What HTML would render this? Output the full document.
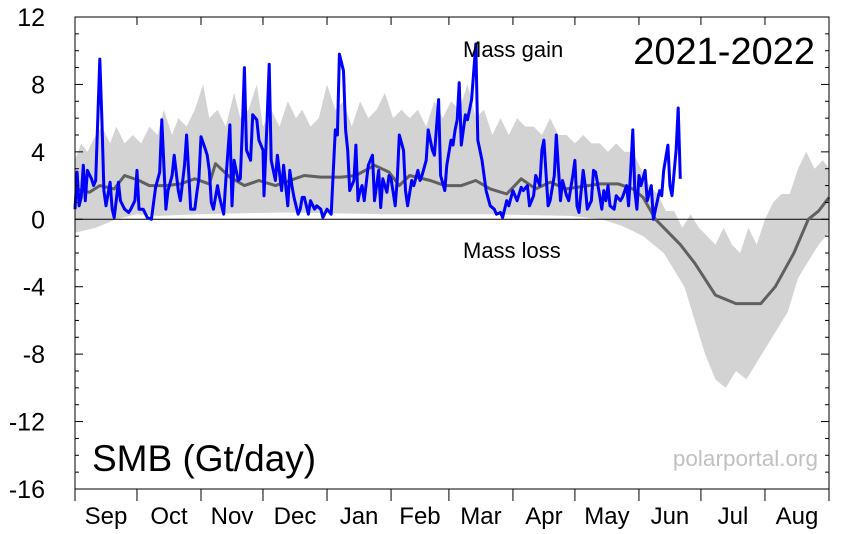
<!DOCTYPE html>
<html><head><meta charset="utf-8"><style>
html,body{margin:0;padding:0;background:#fff;}
svg{display:block;font-family:"Liberation Sans",sans-serif;}
</style></head><body>
<svg id="chart" width="845" height="534" viewBox="0 0 845 534" xmlns="http://www.w3.org/2000/svg">
<g id="band"></g>
<g id="lines"></g>
<g id="axes"></g>
<text x="92" y="471" font-size="37">SMB (Gt/day)</text>
<text x="815" y="64" font-size="38" text-anchor="end">2021-2022</text>
<text x="463" y="57" font-size="22">Mass gain</text>
<text x="463" y="258" font-size="22">Mass loss</text>
<text x="818" y="466" font-size="22.5" fill="#c0c0c0" text-anchor="end">polarportal.org</text>
</svg>
<script>
const monthLabels=["Sep","Oct","Nov","Dec","Jan","Feb","Mar","Apr","May","Jun","Jul","Aug"];
const monthStarts=[0,30,61,91,122,153,181,212,242,273,303,334,365];
const yTicks=[12,8,4,0,-4,-8,-12,-16];
const bandUpperDays=[0,3,6,10,13,17,20,24,28,32,36,40,43,47,50,54,58,62,65,69,73,77,80,84,88,91,95,99,103,107,110,114,118,122,126,130,134,138,142,146,150,154,158,162,166,170,174,178,182,186,190,194,198,202,206,210,214,218,222,226,230,234,238,242,246,250,254,258,262,266,270,274,278,282,286,290,294,298,302,306,310,314,318,322,326,330,334,338,342,346,350,354,358,362,365];
const bandUpperVals=[3.5,4.5,4,5,5.5,4.5,5.5,4.5,5,4.5,5.5,5,6.5,5,6,5.5,6.5,8,6,6.5,5.5,7.5,6,6.5,8,5.5,6.5,5.5,7,6,6.5,5.5,6,8,6.5,7,5.5,7,6,6.5,7.5,6,6.5,6,6.5,5.5,7,6,7,6.5,8,6,6.5,5,6,5,6,5.5,5.5,5,6,5,5,4.5,5,4.5,4.5,4,4.5,4,4,3,2,1.5,0.5,0.5,-0.5,0.3,-0.5,-1,-1.5,-0.5,-1.5,-2,-0.5,-1.5,0,1,1.5,1.5,3,4,3,3.5,3];
const bandLowerDays=[0,10,20,30,40,60,100,150,200,240,255,265,275,285,295,300,305,310,315,320,325,330,335,340,345,350,355,360,365];
const bandLowerVals=[-0.8,-0.5,0,0.3,0.2,0.3,0.4,0.3,0.3,0.2,0,-0.4,-1,-2,-4,-6,-8,-9.5,-10,-9,-9.5,-8.5,-7.5,-6.5,-5.5,-3.5,-2.5,-1.5,-0.8];
const meanDays=[0,7,12,19,24,31,36,44,51,58,65,68,75,82,89,97,104,111,119,129,136,145,152,157,162,172,179,187,194,201,209,216,223,230,238,254,263,270,275,281,293,300,310,320,332,339,348,355,360,365];
const meanVals=[1.8,1.6,2.0,1.8,2.6,2.3,2.0,2.0,2.1,2.4,2.1,3.3,2.5,2.0,2.3,2.0,2.3,2.6,2.5,2.5,2.6,3.2,2.8,2.0,2.6,2.3,2.0,2.0,2.3,1.8,1.5,2.4,1.8,2.2,1.8,2.1,2.1,1.8,1.3,0.0,-1.5,-2.6,-4.5,-5.0,-5.0,-4.0,-2.0,0.0,0.5,1.3];
const obsDays=[0,1,2,3,4,5,6,8,9,10,12,13,14,15,17,18,19,21,22,24,26,27,29,30,31,33,35,37,39,41,42,44,45,47,48,50,51,53,54,56,58,59,60,61,63,64,65,66,67,69,70,72,73,75,76,77,79,80,81,82,83,85,86,88,89,91,91.5,93,94,95,97,98,100,101,103,104,105,106,108,109,110,111,113,114,116,117,119,120,122,124,126,127,128,130,131,132,133,135,136,137,138,139,140,142,144,145,147,148,149,151,152,153,155,156,157,159,160,161,163,164,166,167,168,170,171,173,174,176,177,179,180,182,183,184,185,186,187,189,190,192,194,195,197,199,201,203,204,206,207,209,210,212,213,214,216,217,219,220,222,223,225,226,227,229,230,232,233,235,236,238,239,241,242,243,244,246,247,248,250,251,252,254,255,256,257,258,259,261,262,264,265,267,268,269,270,271,272,273,274,276,277,279,280,281,283,284,285,287,288,289,291,292,293];
const obsVals=[0.6,2.8,0.8,1.3,3.2,1.1,2.9,2.4,2.0,2.3,9.5,5.9,1.7,0.8,2.2,0.6,0.1,2.2,1.1,0.6,0.4,0.6,1.1,2.9,0.6,0.6,0.1,0.0,1.9,2.8,5.9,0.6,1.7,2.6,3.8,1.7,1.1,3.2,5.0,0.6,0.6,1.6,2.4,4.9,4.2,3.8,2.9,1.0,0.6,2.0,1.3,0.3,2.3,5.6,0.8,3.5,2.3,2.4,5.3,9.0,4.1,3.5,6.2,5.9,4.7,4.1,1.4,5.9,9.2,3.5,2.3,3.8,1.7,3.2,0.8,2.9,2.0,1.3,0.3,0.6,1.3,1.3,0.3,1.1,0.6,0.8,0.6,0.1,0.6,0.3,5.3,5.0,9.8,8.8,5.3,4.1,1.7,2.3,4.4,1.1,1.7,2.0,1.1,3.2,3.8,1.1,2.9,0.7,2.4,1.6,2.6,2.4,0.8,2.4,5.0,4.1,1.7,0.8,2.3,2.0,2.9,2.3,2.6,3.5,5.3,4.1,3.8,7.1,2.6,1.7,3.2,4.7,4.4,5.3,5.9,8.1,4.4,6.2,5.9,7.1,10.4,4.7,3.5,1.7,0.8,0.6,0.3,0.4,0.1,1.1,0.8,1.7,1.4,1.1,1.9,1.7,2.0,0.8,1.4,2.6,2.0,4.1,4.7,0.8,1.1,2.6,5.0,1.1,2.3,1.4,1.1,2.6,3.5,0.8,0.4,2.9,2.0,0.6,1.1,2.9,2.8,1.4,0.6,1.7,1.1,2.0,0.8,0.6,1.4,1.1,1.3,2.0,0.8,2.9,5.3,1.7,0.6,2.6,2.0,2.9,1.1,2.0,0.0,0.6,1.7,1.4,2.9,4.4,2.0,1.4,4.1,6.6,2.4];

const X0=75,X1=829,Y0=17,Y1=489,YMAX=12,YMIN=-16;
const xs=d=>X0+d*(X1-X0)/365;
const ys=v=>Y0+(YMAX-v)*(Y1-Y0)/(YMAX-YMIN);
const NS="http://www.w3.org/2000/svg";
function mk(tag,attrs,parent){const e=document.createElementNS(NS,tag);for(const k in attrs)e.setAttribute(k,attrs[k]);parent.appendChild(e);return e;}

let bp="M"+bandUpperDays.map((d,i)=>xs(d).toFixed(1)+","+ys(bandUpperVals[i]).toFixed(1)).join("L");
for(let i=bandLowerDays.length-1;i>=0;i--)bp+="L"+xs(bandLowerDays[i]).toFixed(1)+","+ys(bandLowerVals[i]).toFixed(1);
const band=mk("path",{d:bp+"Z",fill:"#d3d3d3"},document.getElementById("band"));



const lines=document.getElementById("lines");
const zero=mk("line",{x1:X0,x2:X1,y1:ys(0),y2:ys(0),stroke:"#000","stroke-width":1},lines);


const mean=mk("polyline",{points:meanDays.map((d,i)=>xs(d).toFixed(1)+","+ys(meanVals[i]).toFixed(1)).join(" "),fill:"none",stroke:"#606060","stroke-width":3,"stroke-linejoin":"round"},lines);


const obs=mk("polyline",{points:obsDays.map((d,i)=>xs(d).toFixed(1)+","+ys(obsVals[i]).toFixed(1)).join(" "),fill:"none",stroke:"#0000ff","stroke-width":3,"stroke-linejoin":"round"},lines);



const ax=document.getElementById("axes");
const frame=mk("rect",{x:X0,y:Y0,width:X1-X0,height:Y1-Y0,fill:"none",stroke:"#000","stroke-width":1},ax);


for(let v=YMIN;v<=YMAX;v++){
  const major=v%4===0,len=major?8:4,y=ys(v);
  mk("line",{x1:X0,x2:X0+len,y1:y,y2:y,stroke:"#000"},ax);
  mk("line",{x1:X1,x2:X1-len,y1:y,y2:y,stroke:"#000"},ax);
}
yTicks.forEach(v=>{
  const t=mk("text",{x:45,y:ys(v)+9,"font-size":25,"text-anchor":"end"},ax);
  t.textContent=String(v);
  
  
});
monthStarts.forEach(d=>{
  mk("line",{x1:xs(d),x2:xs(d),y1:Y1,y2:Y1+12,stroke:"#000"},ax);
  mk("line",{x1:xs(d),x2:xs(d),y1:Y0,y2:Y0+8,stroke:"#000"},ax);
});
monthLabels.forEach((m,i)=>{
  const t=mk("text",{x:(xs(monthStarts[i])+xs(monthStarts[i+1]))/2,y:524,"font-size":24,"text-anchor":"middle"},ax);
  t.textContent=m;
  
  
});
</script>
</body></html>
